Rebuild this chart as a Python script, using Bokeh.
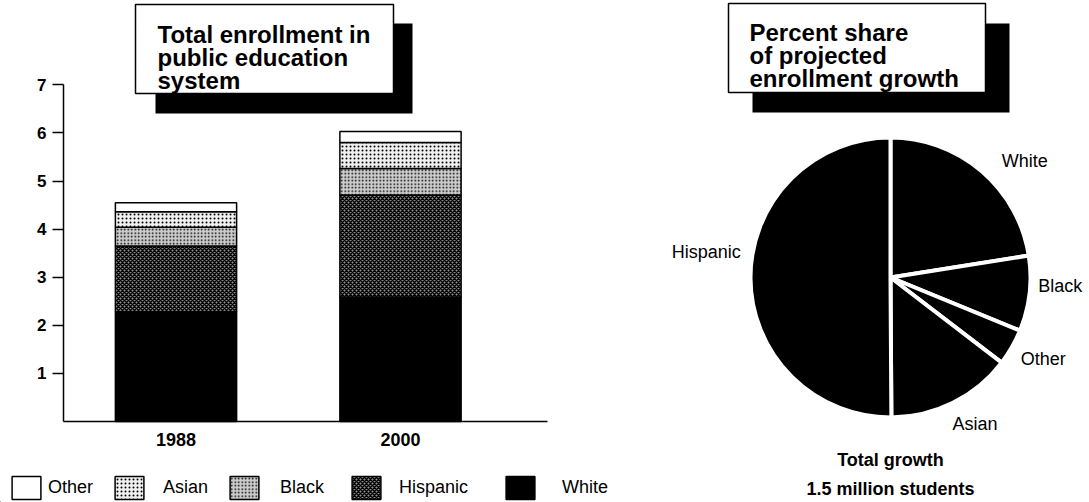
import math

from bokeh.core.properties import value
from bokeh.embed import file_html
from bokeh.layouts import row
from bokeh.models import FixedTicker, Legend, LegendItem, Range1d
from bokeh.plotting import figure
from bokeh.resources import INLINE

# ---------------------------------------------------------------- data
# Enrollment in the public education system, millions of students
years = [1988, 2000]
year_labels = ["1988", "2000"]
white = [2.28, 2.59]
hispanic = [1.37, 2.12]
black = [0.39, 0.55]
asian = [0.32, 0.54]
other = [0.19, 0.23]

# Percent share of projected enrollment growth, clockwise from 12 o'clock
share_groups = ["White", "Black", "Other", "Asian", "Hispanic"]
share_pct = [22.5, 8.7, 4.2, 14.5, 50.1]

y_ticks = [1, 2, 3, 4, 5, 6, 7]

left_title = ["Total enrollment in", "public education", "system"]
right_title = ["Percent share", "of projected", "enrollment growth"]
footer = ["Total growth", "1.5 million students"]

# ---------------------------------------------------------------- styles
FONT = "Liberation Sans"
stack_order = ["White", "Hispanic", "Black", "Asian", "Other"]
stack_values = {"White": white, "Hispanic": hispanic, "Black": black,
                "Asian": asian, "Other": other}
fills = {
    "White": dict(fill_color="black"),
    "Hispanic": dict(fill_color="#909090", hatch_pattern="diagonal_cross",
                     hatch_color="black", hatch_scale=4, hatch_weight=1.5),
    "Black": dict(fill_color="#cdcdcd", hatch_pattern="dot",
                  hatch_color="black", hatch_scale=3.5, hatch_weight=1.5),
    "Asian": dict(fill_color="#f0f0f0", hatch_pattern="dot",
                  hatch_color="black", hatch_scale=4, hatch_weight=1.3),
    "Other": dict(fill_color="white"),
}
legend_order = ["Other", "Asian", "Black", "Hispanic", "White"]
legend_x = [12, 115, 230, 352, 506]        # left edge of each swatch, px
legend_gap = [8, 20, 22, 19, 28]            # swatch-to-label gap, px

# ---------------------------------------------------------------- bar chart
W_LEFT, H = 640, 502
AXIS_X, BASE_Y = 63, 421            # pixel position of the y axis / baseline
PX_PER_VALUE = 48.1                  # vertical pixels per million students
PX_PER_SLOT = 224.5                  # horizontal pixels between the two bars
FIRST_CENTER = 175.5                 # pixel centre of the first bar
x0 = 1 - FIRST_CENTER / PX_PER_SLOT
x1 = x0 + W_LEFT / PX_PER_SLOT
y0 = -(H - BASE_Y) / PX_PER_VALUE
y1 = BASE_Y / PX_PER_VALUE
axis_x_value = x0 + AXIS_X / PX_PER_SLOT

p = figure(width=W_LEFT, height=H, title=None, output_backend="svg",
           toolbar_location=None, x_range=Range1d(x0, x1),
           y_range=Range1d(y0, y1),
           min_border=0, min_border_left=0, min_border_right=0,
           min_border_top=0, min_border_bottom=0)
p.outline_line_color = None
p.grid.visible = False

# page-pixel coordinates for the title panel
p.extra_x_ranges = {"page": Range1d(0, W_LEFT)}
p.extra_y_ranges = {"page": Range1d(H, 0)}

slots = [1, 2]
bottoms = [0.0] * len(years)
for g in stack_order:
    tops = [b + v for b, v in zip(bottoms, stack_values[g])]
    p.vbar(x=slots, width=0.54, bottom=bottoms, top=tops,
           line_color="black", line_width=1.5, **fills[g])
    bottoms = tops

# axes pinned inside the frame so the legend can sit below them
p.yaxis.fixed_location = axis_x_value
p.xaxis.fixed_location = 0
p.yaxis.ticker = FixedTicker(ticks=y_ticks, minor_ticks=[])
p.yaxis.bounds = (0, 7)
p.yaxis.major_tick_out = 11
p.yaxis.major_tick_in = 0
p.yaxis.major_label_standoff = 6
p.xaxis.ticker = FixedTicker(ticks=slots, minor_ticks=[])
p.xaxis.major_label_overrides = dict(zip(slots, year_labels))
p.xaxis.bounds = (axis_x_value, x0 + 547 / PX_PER_SLOT)
p.xaxis.major_tick_out = 0
p.xaxis.major_tick_in = 0
p.xaxis.major_label_standoff = 11
for ax in (p.xaxis, p.yaxis):
    ax.axis_line_color = "black"
    ax.axis_line_width = 1.5
    ax.major_tick_line_color = "black"
    ax.major_tick_line_width = 1.5
    ax.minor_tick_line_color = None
    ax.major_label_text_font = FONT
    ax.major_label_text_font_style = "bold"
    ax.major_label_text_color = "black"
p.yaxis.major_label_text_font_size = "17px"
p.xaxis.major_label_text_font_size = "18px"

# title panel with drop shadow
p.quad(left=[155], right=[412], top=[23], bottom=[113], x_range_name="page",
       y_range_name="page", fill_color="black", line_color=None)
p.quad(left=[135], right=[393], top=[4], bottom=[93], x_range_name="page",
       y_range_name="page", fill_color="white", line_color="black",
       line_width=1.5)
p.text(x=[157] * 3, y=[33.5 + 23 * i for i in range(3)], text=left_title,
       x_range_name="page", y_range_name="page",
       text_font=value(FONT), text_font_style="bold", text_font_size="24px",
       text_baseline="alphabetic", text_align="left", text_color="black")

# legend row along the bottom edge
GLYPH_W, GLYPH_H = 36, 29
inset = round(0.1 * GLYPH_W)   # legend swatches are drawn inset by 10 %
for g, lx0, gap in zip(legend_order, legend_x, legend_gap):
    # stand-in renderer, far outside the visible ranges, carrying the swatch style
    r = p.vbar(x=[-100], top=[-100], bottom=[-101], width=0.1,
               line_color="black", line_width=1.5, **fills[g])
    lg = Legend(items=[LegendItem(label=g, renderers=[r])],
                location=(lx0 - inset, 0), glyph_width=GLYPH_W,
                glyph_height=GLYPH_H, label_standoff=max(0, gap - inset),
                padding=0, margin=0, spacing=0,
                label_text_font=FONT, label_text_font_size="18px",
                label_text_color="black", border_line_color=None,
                background_fill_alpha=0)
    p.add_layout(lg, "center")

# ---------------------------------------------------------------- pie chart
W_RIGHT = 1089 - W_LEFT
pie = figure(width=W_RIGHT, height=H, title=None, output_backend="svg",
             toolbar_location=None, x_axis_type=None, y_axis_type=None,
             x_range=Range1d(W_LEFT, W_LEFT + W_RIGHT), y_range=Range1d(0, H),
             min_border=0, min_border_left=0, min_border_right=0,
             min_border_top=0, min_border_bottom=0)
pie.outline_line_color = None
pie.grid.visible = False


def up(py):
    """page y (from the top) -> data y (from the bottom)"""
    return H - py


CX, CY, R = 890, up(277), 140
total = sum(share_pct)
start, end = [], []
a = 90.0
for s in share_pct:
    sweep = 360.0 * s / total
    end.append(math.radians(a))
    start.append(math.radians(a - sweep))
    a -= sweep
pie.wedge(x=CX, y=CY, radius=R, start_angle=start, end_angle=end,
          fill_color="black", line_color="white", line_width=4)

# slice labels placed around the rim
label_angle = [41, -3, -28, -60, 172]
label_radius = [178, 170, 173, 169, 186]
lx = [CX + rr * math.cos(math.radians(aa)) for aa, rr in zip(label_angle, label_radius)]
ly = [CY + rr * math.sin(math.radians(aa)) for aa, rr in zip(label_angle, label_radius)]
pie.text(x=lx, y=ly, text=share_groups, text_font=value(FONT),
         text_font_size="18px", text_align="center", text_baseline="middle",
         text_color="black")

pie.text(x=[CX, CX], y=[up(459), up(488)], text=footer, text_font=value(FONT),
         text_font_style="bold", text_font_size="18px", text_align="center",
         text_baseline="middle", text_color="black")

# title panel with drop shadow
pie.quad(left=[752], right=[1009], top=[up(23)], bottom=[up(112)],
         fill_color="black", line_color=None)
pie.quad(left=[728], right=[985], top=[up(3)], bottom=[up(92)],
         fill_color="white", line_color="black", line_width=1.5)
pie.text(x=[749] * 3, y=[up(31.7 + 23.3 * i) for i in range(3)], text=right_title,
         text_font=value(FONT), text_font_style="bold", text_font_size="24px",
         text_baseline="alphabetic", text_align="left", text_color="black")

layout = row(p, pie, spacing=0)
open("out.html", "w").write(file_html(layout, INLINE))
